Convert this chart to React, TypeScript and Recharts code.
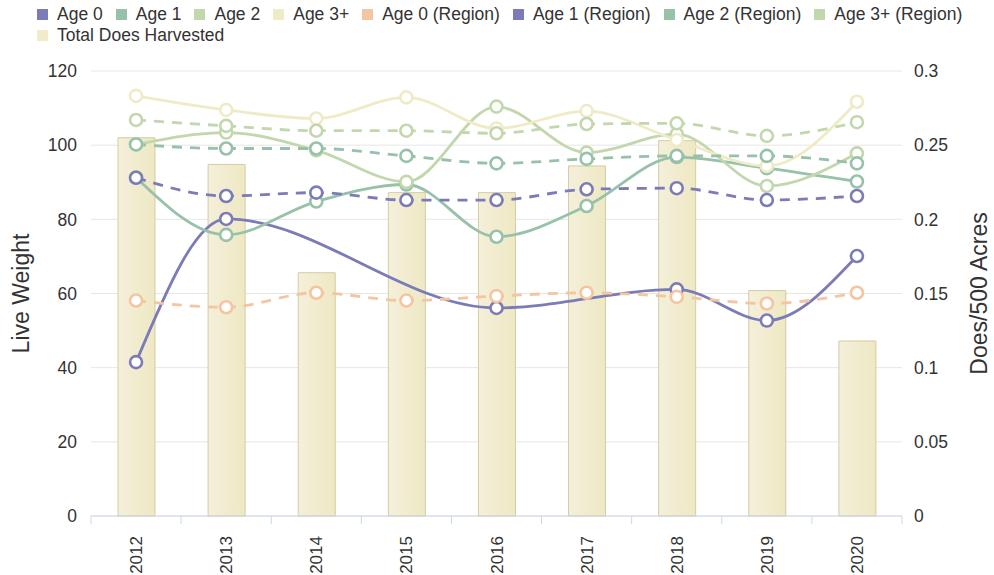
import {
  ComposedChart,
  Bar,
  Line,
  XAxis,
  YAxis,
  CartesianGrid,
} from "recharts";

const years = ["2012", "2013", "2014", "2015", "2016", "2017", "2018", "2019", "2020"];

const age0 = [41.5, 80.1, null, null, 56.1, null, 61.1, 52.7, 70.1];
const age1 = [91.3, 75.8, 84.8, 89.4, 75.3, 83.6, 96.8, 93.8, 90.2];
const age2 = [100.2, 103.4, 98.6, 90.1, 110.4, 98.0, 103.0, 89.0, 97.8];
const age3 = [113.3, 109.5, 107.2, 112.9, 104.5, 109.2, 101.4, 94.4, 111.7];
const age0Region = [58.1, 56.3, 60.2, 58.1, 59.3, 60.2, 59.1, 57.3, 60.2];
const age1Region = [91.2, 86.3, 87.2, 85.2, 85.2, 88.1, 88.4, 85.2, 86.3];
const age2Region = [100.2, 99.1, 99.1, 97.1, 95.1, 96.3, 97.1, 97.1, 95.1];
const age3Region = [106.8, 105.2, 103.9, 103.9, 103.2, 105.7, 105.9, 102.5, 106.2];
const totalDoes = [0.255, 0.237, 0.164, 0.218, 0.218, 0.236, 0.253, 0.152, 0.118];

const leftTicks = [0, 20, 40, 60, 80, 100, 120];
const rightTicks = [0, 0.05, 0.1, 0.15, 0.2, 0.25, 0.3];

const data = years.map((year, i) => ({
  year,
  age0: age0[i],
  age1: age1[i],
  age2: age2[i],
  age3: age3[i],
  age0Region: age0Region[i],
  age1Region: age1Region[i],
  age2Region: age2Region[i],
  age3Region: age3Region[i],
  totalDoes: totalDoes[i],
}));

const series = [
  { key: "age0", name: "Age 0", color: "#7b7bb8", dash: undefined },
  { key: "age1", name: "Age 1", color: "#97c2a9", dash: undefined },
  { key: "age2", name: "Age 2", color: "#c3d7ad", dash: undefined },
  { key: "age3", name: "Age 3+", color: "#efebc6", dash: undefined },
  { key: "age0Region", name: "Age 0 (Region)", color: "#f4c5a1", dash: "10 8" },
  { key: "age1Region", name: "Age 1 (Region)", color: "#7b7bb8", dash: "10 8" },
  { key: "age2Region", name: "Age 2 (Region)", color: "#97c2a9", dash: "10 8" },
  { key: "age3Region", name: "Age 3+ (Region)", color: "#c3d7ad", dash: "10 8" },
];

const barColor = "#f0ebc8";
const font = "Liberation Sans, Arial, sans-serif";

function LegendBox() {
  const items = [...series.map((s) => ({ name: s.name, color: s.color })), { name: "Total Does Harvested", color: barColor }];
  return (
    <div
      style={{
        position: "absolute",
        left: 37,
        top: 4,
        display: "flex",
        flexWrap: "wrap",
        width: 945,
        fontFamily: font,
        fontSize: 17.5,
        color: "#333",
        lineHeight: "21px",
      }}
    >
      {items.map((it) => (
        <div key={it.name} style={{ display: "flex", alignItems: "center", marginRight: 13 }}>
          <span style={{ width: 11, height: 11, background: it.color, marginRight: 9, display: "inline-block" }} />
          <span>{it.name}</span>
        </div>
      ))}
    </div>
  );
}

function YearTick(props: any) {
  const { x, y, payload, index, visibleTicksCount } = props;
  const half = payload.offset || 45;
  return (
    <g>
      <line x1={x - half} x2={x - half} y1={y - 8} y2={y} stroke="#ccd6eb" />
      {index === visibleTicksCount - 1 && (
        <line x1={x + half} x2={x + half} y1={y - 8} y2={y} stroke="#ccd6eb" />
      )}
      <text
        x={x + 6}
        y={y + 12}
        transform={`rotate(-90, ${x + 6}, ${y + 12})`}
        textAnchor="end"
        fill="#333"
        fontSize={17}
        fontFamily={font}
      >
        {payload.value}
      </text>
    </g>
  );
}

export default function App() {
  return (
    <div style={{ position: "absolute", left: 0, top: 0, width: 994, height: 575, background: "#fff" }}>
      <ComposedChart
        width={994}
        height={575}
        data={data}
        margin={{ top: 71, right: 0, bottom: 0, left: 0 }}
      >
        <defs>
          <linearGradient id="barGrad" x1="0" y1="0" x2="1" y2="0">
            <stop offset="0%" stopColor="#f4f0da" />
            <stop offset="100%" stopColor="#eee8c3" />
          </linearGradient>
        </defs>
        <CartesianGrid vertical={false} stroke="#e6e6e6" yAxisId="left" />
        <XAxis
          dataKey="year"
          height={59}
          axisLine={{ stroke: "#ccd6eb" }}
          tickLine={false}
          tick={<YearTick />}
          interval={0}
        />
        <YAxis
          yAxisId="left"
          domain={[0, 120]}
          ticks={leftTicks}
          width={91}
          axisLine={false}
          tickLine={false}
          tickMargin={8}
          tick={{ fill: "#333", fontSize: 17.5, fontFamily: font }}
          label={{
            value: "Live Weight",
            angle: -90,
            position: "insideLeft",
            offset: 0,
            dx: 21,
            style: { textAnchor: "middle", fill: "#333", fontSize: 23, fontFamily: font },
          }}
        />
        <YAxis
          yAxisId="right"
          orientation="right"
          domain={[0, 0.3]}
          ticks={rightTicks}
          width={92}
          axisLine={false}
          tickLine={false}
          tickMargin={6}
          tick={{ fill: "#333", fontSize: 17.5, fontFamily: font }}
          label={{
            value: "Does/500 Acres",
            angle: -90,
            position: "insideRight",
            offset: 0,
            dx: -15,
            style: { textAnchor: "middle", fill: "#333", fontSize: 23, fontFamily: font },
          }}
        />
        <Bar
          yAxisId="right"
          dataKey="totalDoes"
          name="Total Does Harvested"
          fill="url(#barGrad)"
          stroke="#d2cca5"
          strokeWidth={1}
          barSize={37}
          isAnimationActive={false}
        />
        {series.map((s) => (
          <Line
            key={s.key}
            yAxisId="left"
            type="monotone"
            dataKey={s.key}
            name={s.name}
            stroke={s.color}
            strokeWidth={2.8}
            strokeDasharray={s.dash}
            connectNulls
            dot={{ r: 6, fill: "#fff", stroke: s.color, strokeWidth: 2.6, strokeDasharray: "0" }}
            activeDot={false}
            isAnimationActive={false}
          />
        ))}
      </ComposedChart>
      <LegendBox />
    </div>
  );
}
